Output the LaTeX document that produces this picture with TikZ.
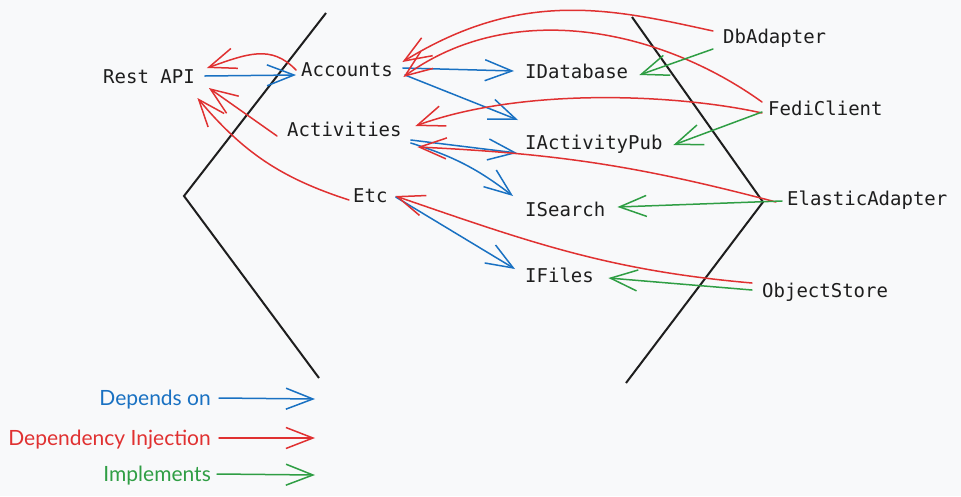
\documentclass[tikz,border=0pt]{standalone}
\usepackage{fontspec}
\setmainfont{Lato}
\newfontfamily\monof{DejaVu Sans Mono}
\usetikzlibrary{arrows.meta,calc}
\definecolor{cblue}{HTML}{1971C2}
\definecolor{cred}{HTML}{E03131}
\definecolor{cgreen}{HTML}{2F9E44}
\definecolor{cink}{HTML}{1E1E1E}
\definecolor{cbg}{HTML}{F8F9FA}
\begin{document}
\begin{tikzpicture}[x=1pt,y=-1pt,
  lbl/.style={font=\monof\fontsize{19}{22}\selectfont, text=cink, inner sep=0pt, text height=14pt, text depth=0pt, anchor=west},
  hand/.style={font=\fontsize{21}{24}\selectfont, inner sep=0pt, anchor=east, text height=15pt, text depth=0pt},
  conn/.style={line width=1.5pt, -{Straight Barb[length=27pt,width=21pt,line width=1.5pt]}, line cap=round, line join=round},
  dep/.style={conn, draw=cblue},
  inj/.style={conn, draw=cred},
  impl/.style={conn, draw=cgreen},
  wall/.style={draw=cink, line width=2pt, line join=miter}
]
\fill[cbg, use as bounding box] (0,0) rectangle (961,496);

% walls
\draw[wall] (326,13) -- (184,196) -- (319,378);
\draw[wall] (632,17) -- (763,202) -- (626,383);

% nodes
\node[lbl] (rest) at (103,76) {Rest API};
\node[lbl] (acc) at (301,69) {Accounts};
\node[lbl] (actv) at (287,129) {Activities};
\node[lbl] (etc) at (353,195) {Etc};
\node[lbl] (idb) at (525,71) {IDatabase};
\node[lbl] (iap) at (525,142) {IActivityPub};
\node[lbl] (isr) at (525,209) {ISearch};
\node[lbl] (ifl) at (525,275) {IFiles};
\node[lbl] (db) at (723,36) {DbAdapter};
\node[lbl] (fedi) at (768,108) {FediClient};
\node[lbl] (ela) at (787,198) {ElasticAdapter};
\node[lbl] (obj) at (762,290) {ObjectStore};

% depends on
\draw[dep] ([shift={(10,0)}]rest.east) -- ([shift={(-5,6)}]acc.west);
\draw[dep] ([shift={(10,-1)}]acc.east) -- ([shift={(-11,0)}]idb.west);
\draw[dep] ([shift={(12,6)}]acc.east) -- ([shift={(-7,-22)}]iap.west);
\draw[dep] ([shift={(9,11)}]actv.east) -- ([shift={(-8,11)}]iap.west);
\draw[dep] ([shift={(9,14)}]actv.east) to[bend left=10] ([shift={(-12,-13)}]isr.west);
\draw[dep] ([shift={(8,2)}]etc.east) -- ([shift={(-10,-6)}]ifl.west);

% dependency injection
\draw[inj] ([shift={(-5,1)}]acc.west) .. controls +(-25,-26) and +(40,-14) .. ([shift={(12,-8)}]rest.east);
\draw[inj] ([shift={(-10,7)}]actv.west) -- ([shift={(14,12)}]rest.east);
\draw[inj] ([shift={(-4,5)}]etc.west) to[bend left=16] ([shift={(2.5,22)}]rest.east);
\draw[inj] ([shift={(-10,-5)}]db.west) .. controls +(-100,-22) and +(120,-74) .. ([shift={(9.5,-7)}]acc.east);
\draw[inj] ([shift={(-6,-6)}]fedi.west) .. controls +(-100,-72) and +(110,-80) .. ([shift={(10.5,8)}]acc.east);
\draw[inj] ([shift={(-6,5)}]fedi.west) .. controls +(-80,-18) and +(110,-40) .. ([shift={(13.6,-3)}]actv.east);
\draw[inj] ([shift={(-11,4)}]ela.west) to[bend right=6] ([shift={(15.6,18)}]actv.east);
\draw[inj] ([shift={(-10,-7)}]obj.west) to[out=175,in=-19] ([shift={(7.7,1)}]etc.east);

% implements
\draw[impl] ([shift={(-10,13)}]db.west) -- ([shift={(11,4)}]idb.east);
\draw[impl] ([shift={(-6,4)}]fedi.west) -- ([shift={(10.7,3)}]iap.east);
\draw[impl] ([shift={(-5,3)}]ela.west) -- ([shift={(12,-2)}]isr.east);
\draw[impl] ([shift={(-10,0)}]obj.west) -- ([shift={(14.4,3)}]ifl.east);

% legend
\node[hand, text=cblue] (lg1) at (211,398) {Depends on};
\node[hand, text=cred] (lg2) at (211,438) {Dependency Injection};
\node[hand, text=cgreen] (lg3) at (211,474) {Implements};
\coordinate (lg1e) at (315,399);
\coordinate (lg2e) at (315,438);
\coordinate (lg3e) at (315,475);
\draw[dep] ([xshift=8]lg1.east) -- (lg1e);
\draw[inj] ([xshift=8]lg2.east) -- (lg2e);
\draw[impl] ([xshift=6]lg3.east) -- (lg3e);
\end{tikzpicture}
\end{document}
